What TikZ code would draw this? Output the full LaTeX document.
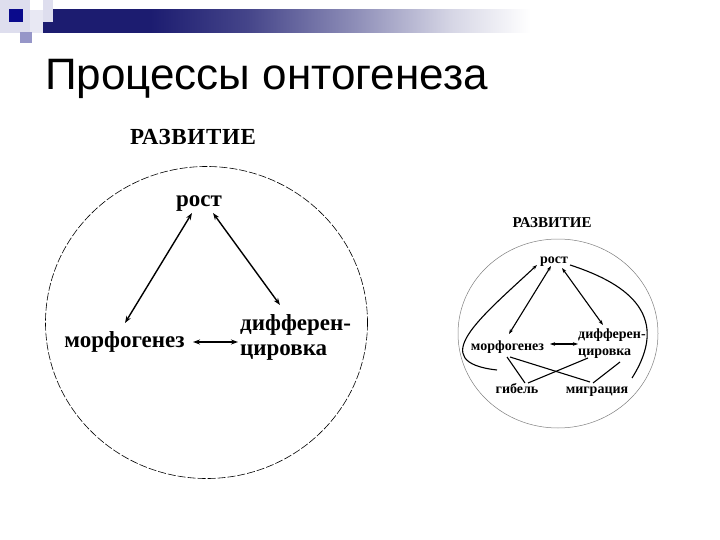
\documentclass[tikz,border=0pt]{standalone}
\usepackage{fontspec}
\setmainfont{Liberation Serif}
\newfontfamily\titlefont{Liberation Sans}
\usetikzlibrary{arrows.meta}
\definecolor{navy}{RGB}{28,28,112}
\definecolor{darkbl}{RGB}{10,10,140}
\definecolor{palelav}{RGB}{222,222,238}
\definecolor{midlav}{RGB}{150,150,200}
\pgfdeclarehorizontalshading{barshade}{100bp}{color(0bp)=(navy); color(25bp)=(navy); color(36bp)=(navy); color(46bp)=(navy!82); color(57bp)=(navy!50); color(67bp)=(navy!18); color(75bp)=(white); color(100bp)=(white)}
\tikzset{
  bigword/.style={inner sep=0pt, font=\bfseries\fontsize{23}{25}\selectfont},
  smallword/.style={inner sep=0pt, font=\bfseries\fontsize{14}{17}\selectfont},
  bigarr/.style={line width=1.4pt, {Stealth[length=7pt,width=5pt]}-{Stealth[length=7pt,width=5pt]}},
  smallarr/.style={line width=1.1pt, {Stealth[length=5pt,width=3.5pt]}-{Stealth[length=5pt,width=3.5pt]}},
  smallone/.style={line width=1.1pt, -{Stealth[length=5pt,width=3.5pt]}},
  smallline/.style={line width=1.1pt},
}
\begin{document}
\begin{tikzpicture}[x=1pt,y=-1pt]
\useasboundingbox (0,0) rectangle (720,540);
\fill[white] (0,0) rectangle (720,540);
% header decoration
\fill[palelav] (0,0) rectangle (30,33);
\fill[palelav!70] (30,10) rectangle (43,33);
\shade[shading=barshade] (43,10) rectangle (530,33);
\fill[palelav] (43,0) rectangle (53,22);
\fill[darkbl] (9,9) rectangle (23,22);
\fill[midlav] (20,32) rectangle (32,43);
% title
\node[anchor=base west, inner sep=0pt, font=\titlefont\fontsize{44}{50}\selectfont] (title) at (45,90) {Процессы онтогенеза};

% ---- left diagram ----
\draw[line width=0.6pt, dash pattern=on 8pt off 2pt] (206.5,322.5) ellipse [x radius=161, y radius=156];
\node[anchor=base, inner sep=0pt, font=\bfseries\fontsize{23}{25}\selectfont\addfontfeatures{LetterSpace=3}] (dev1) at (193,145) {РАЗВИТИЕ};
\node[bigword, anchor=base] (rost) at (199,207) {рост};
\node[bigword, anchor=base] (morf) at (124.5,347) {морфогенез};
\node[bigword, anchor=base west, align=left] (diff) at (240,355) {дифферен-\\цировка};
\draw[bigarr] ([shift={(-7,6)}]rost.base) -- ([shift={(0.5,-24)}]morf.base);
\draw[bigarr] ([shift={(14,6)}]rost.base) -- ([shift={(40,-50)}]diff.base west);
\draw[bigarr] ([shift={(68.5,-5)}]morf.base) -- ([shift={(-2,-13)}]diff.base west);

% ---- right diagram ----
\draw[line width=0.5pt, gray] (558,333.5) ellipse [x radius=100, y radius=94.5];
\node[anchor=base, inner sep=0pt, font=\bfseries\fontsize{15}{17}\selectfont] (dev2) at (552,227) {РАЗВИТИЕ};
\node[smallword, anchor=base] (rost2) at (554,263) {рост};
\node[smallword, anchor=base] (morf2) at (507.5,350) {морфогенез};
\node[smallword, anchor=base west, align=left] (diff2) at (578,355) {дифферен-\\цировка};
\node[smallword, anchor=base] (gib) at (517,393) {гибель};
\node[smallword, anchor=base] (migr) at (597,393) {миграция};
\draw[smallone] ([shift={(-20,-23)}]gib.base) .. controls +(-72,-8) and +(-57,53) .. ([shift={(-17,2)}]rost2.base);
\draw[smallarr] ([shift={(-3,3)}]rost2.base) -- ([shift={(1.5,-16)}]morf2.base);
\draw[smallarr] ([shift={(8,5)}]rost2.base) -- ([shift={(25,-30)}]diff2.base west);
\draw[smallline] ([shift={(16,2)}]rost2.base) .. controls +(62,20) and +(38,-60) .. ([shift={(35,-15)}]migr.base);
\draw[smallarr] ([shift={(42.5,-6)}]morf2.base) -- ([shift={(0,-11)}]diff2.base west);
\draw[smallline] ([shift={(-0.5,7)}]morf2.base) -- ([shift={(8,-10)}]gib.base);
\draw[smallline] ([shift={(2.5,7)}]morf2.base) -- ([shift={(-7,-11)}]migr.base);
\draw[smallline] ([shift={(11,-10)}]gib.base) -- ([shift={(10,3)}]diff2.base west);
\draw[smallline] ([shift={(42,7)}]diff2.base west) -- ([shift={(-4,-10)}]migr.base);
\end{tikzpicture}
\end{document}
